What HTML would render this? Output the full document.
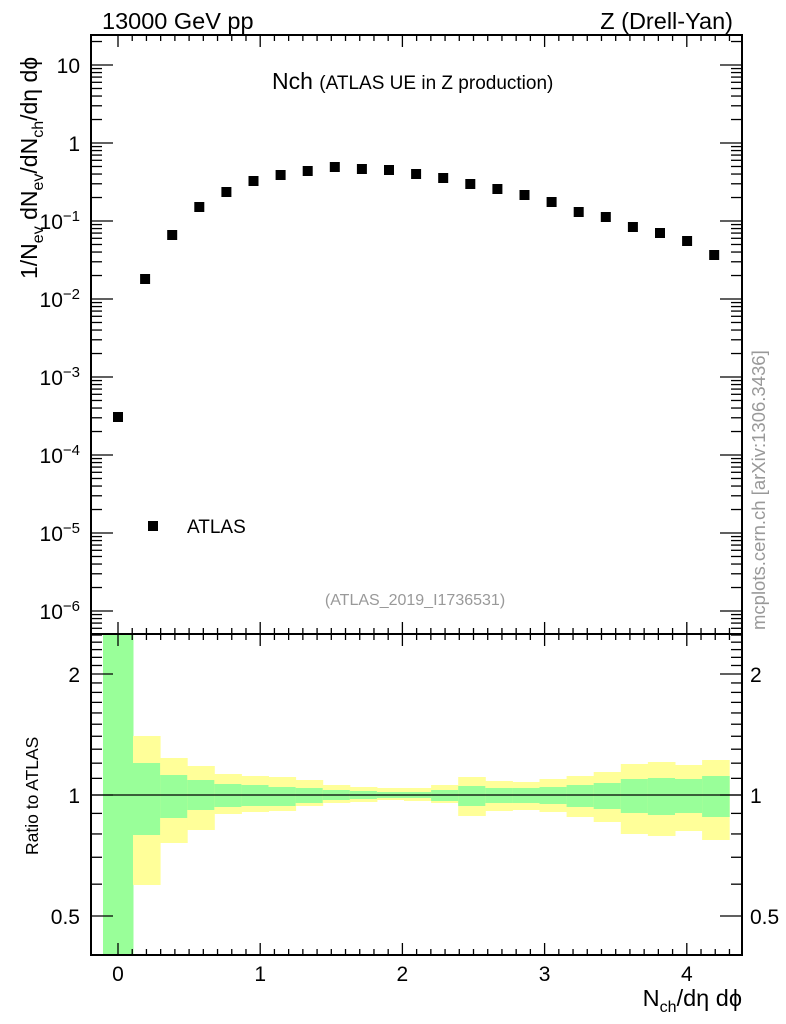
<!DOCTYPE html>
<html><head><meta charset="utf-8"><style>
html,body{margin:0;padding:0;background:#fff}
svg{display:block;font-family:"Liberation Sans",sans-serif}
</style></head><body>
<svg id="s" width="786" height="1024" viewBox="0 0 786 1024" xmlns="http://www.w3.org/2000/svg">
<text x="102" y="29" font-size="23.5">13000 GeV pp</text>
<text x="733" y="29" font-size="23.5" text-anchor="end">Z (Drell-Yan)</text>
<text x="272" y="89" font-size="23">Nch <tspan font-size="19">(ATLAS UE in Z production)</tspan></text>
<text x="415" y="605" font-size="16" fill="#999" text-anchor="middle">(ATLAS_2019_I1736531)</text>
<rect x="148" y="521" width="10" height="10" fill="#000"/>
<text x="187" y="533" font-size="19">ATLAS</text>
<text transform="translate(765,630) rotate(-90)" font-size="18.5" fill="#999">mcplots.cern.ch [arXiv:1306.3436]</text>
<text transform="translate(37,279) rotate(-90)" font-size="23">1/N<tspan font-size="16" dy="6">ev</tspan><tspan dy="-6">&#160;dN</tspan><tspan font-size="16" dy="6">ev</tspan><tspan dy="-6">/dN</tspan><tspan font-size="16" dy="6">ch</tspan><tspan dy="-6">/dη dϕ</tspan></text>
<text transform="translate(38,855) rotate(-90)" font-size="17.5">Ratio to ATLAS</text>
<text x="742" y="1006" font-size="23.5" text-anchor="end">N<tspan font-size="16" dy="6">ch</tspan><tspan dy="-6">/dη dϕ</tspan></text>
<g id="g"></g>
</svg>
<script>
var g=document.getElementById('g'),h='';
function X(v){return 118+142.2*v}
function YM(v){return 143-78*Math.log10(v)}
function YR(v){return 795-121*Math.log2(v)}
var ed=[103,133];for(var k=1;k<=22;k++)ed.push(133+27.1*k);
var yl=[[634,955],[736,885],[758,843],[766,830],[774,814],[776,812],[777,811],[780,806],[785,803],[787,802],[788,800],[788,801],[785,803],[777,816],[781,811],[782,810],[779,812],[776,817],[772,822],[764,834],[762,836],[765,831],[760,840]];
var gr=[[634,955],[763,835],[775,818],[780,810],[784,807],[785,806],[787,806],[788,803],[790,800],[791,799],[792,798],[792,798],[790,801],[786,806],[788,803],[788,803],[787,804],[785,807],[783,809],[779,813],[778,815],[779,813],[776,817]];
for(var i=0;i<23;i++){var a=ed[i],b=ed[i+1];
h+='<rect x="'+a+'" y="'+yl[i][0]+'" width="'+(b-a+0.5)+'" height="'+(yl[i][1]-yl[i][0])+'" fill="#ffff99"/>';
h+='<rect x="'+a+'" y="'+gr[i][0]+'" width="'+(b-a+0.5)+'" height="'+(gr[i][1]-gr[i][0])+'" fill="#99ff99"/>';}
h+='<line x1="91" x2="742" y1="795" y2="795" stroke="#000" stroke-width="1.3"/>';
var py=[417,279,235,207,192,181,175,171,167,169,170,174,178,184,189,195,202,212,217,227,233,241,255];
for(var i=0;i<23;i++){var x=118+27.1*i;h+='<rect x="'+(x-5)+'" y="'+(py[i]-5)+'" width="10" height="10"/>';}
h+='<rect x="91" y="35" width="651" height="599" fill="none" stroke="#000" stroke-width="2"/>';
h+='<rect x="91" y="634" width="651" height="321" fill="none" stroke="#000" stroke-width="2"/>';
for(var v=-0.0;v<=4.35;v+=0.1){var t=Math.round(v*10),x=X(v),L=(t%10==0)?12:6;
[[35,1],[634,-1],[634,1],[955,-1]].forEach(function(p){h+='<line x1="'+x+'" x2="'+x+'" y1="'+p[0]+'" y2="'+(p[0]+p[1]*L)+'" stroke="#000" stroke-width="1.3"/>';});}
for(var n=0;n<=4;n++)h+='<text x="'+X(n)+'" y="981" font-size="21" text-anchor="middle">'+n+'</text>';
for(var e=-7;e<=1;e++)for(var m=1;m<10;m++){var y=YM(m*Math.pow(10,e));if(y<35||y>634)continue;var L=m==1?22:11;
h+='<line x1="91" x2="'+(91+L)+'" y1="'+y+'" y2="'+y+'" stroke="#000" stroke-width="1.3"/>';
h+='<line x1="742" x2="'+(742-L)+'" y1="'+y+'" y2="'+y+'" stroke="#000" stroke-width="1.3"/>';}
var lab=[[1,'10'],[0,'1']];
for(var e=-1;e>=-6;e--)lab.push([e,'10<tspan dy="-8" font-size="15">−'+(-e)+'</tspan>']);
lab.forEach(function(l){var y=YM(Math.pow(10,l[0]));h+='<text x="80" y="'+(y+8)+'" font-size="21" text-anchor="end">'+l[1]+'</text>';});
var rt=[0.4,0.5,0.6,0.7,0.8,0.9,1,1.1,1.2,1.3,1.4,1.5,1.6,1.7,1.8,1.9,2,2.1,2.2,2.3,2.4,2.5];
rt.forEach(function(v){var y=YR(v);if(y<634||y>955)return;var L=(v==0.5||v==1||v==2)?22:11;
h+='<line x1="91" x2="'+(91+L)+'" y1="'+y+'" y2="'+y+'" stroke="#000" stroke-width="1.3"/>';
h+='<line x1="742" x2="'+(742-L)+'" y1="'+y+'" y2="'+y+'" stroke="#000" stroke-width="1.3"/>';});
[[2,'2'],[1,'1'],[0.5,'0.5']].forEach(function(l){var y=YR(l[0])+8;
h+='<text x="80" y="'+y+'" font-size="21" text-anchor="end">'+l[1]+'</text>';
h+='<text x="750" y="'+y+'" font-size="21">'+l[1]+'</text>';});
g.innerHTML=h;
</script>
</body></html>
